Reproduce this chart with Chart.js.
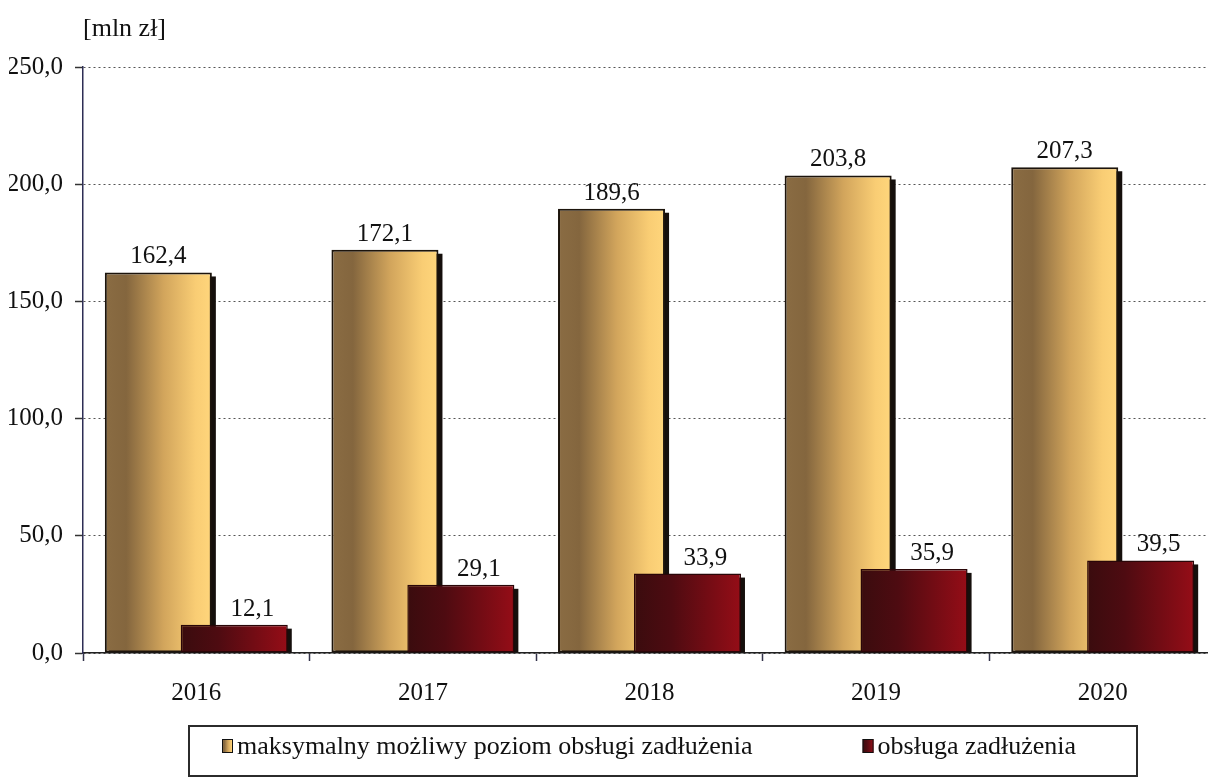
<!DOCTYPE html>
<html lang="pl">
<head>
<meta charset="utf-8">
<title>Obsługa zadłużenia</title>
<script src="https://cdn.jsdelivr.net/npm/chart.js@4.4.1/dist/chart.umd.min.js"></script>
<style>
  html, body { margin: 0; padding: 0; background: #fff; overflow: hidden; }
  #wrap { position: relative; width: 1216px; height: 778px; }
</style>
</head>
<body>
<div id="wrap"><canvas id="wykres"></canvas></div>
<script>
// Dane wykresu
const lata = ['2016', '2017', '2018', '2019', '2020'];
const maksymalnyPoziom = [162.4, 172.1, 189.6, 203.8, 207.3];
const obslugaZadluzenia = [12.1, 29.1, 33.9, 35.9, 39.5];
const etykietySerii = ['maksymalny możliwy poziom obsługi zadłużenia', 'obsługa zadłużenia'];
const zakresY = [0, 250];
const krokY = 50;

const czcionka = '"Liberation Serif", "Times New Roman", serif';

// 162.4 -> "162,4"
function liczbaPL(v) {
    return v.toFixed(1).replace('.', ',');
}

// poziomy gradient słupka
function gradient(ctx, x1, x2, stops) {
    const g = ctx.createLinearGradient(x1, 0, x2, 0);
    stops.forEach(s => g.addColorStop(s[0], s[1]));
    return g;
}
const zloto = [[0, '#8a6c43'], [0.2, '#84663e'], [0.55, '#d2a55c'], [0.85, '#f9cd74'], [1, '#ffd67c']];
const bordo = [[0, '#3a0c0e'], [0.35, '#4e0b11'], [1, '#950d17']];
const paleta = [zloto, bordo];

// cień pod słupkami
function cien(chart, meta) {
    const ctx = chart.ctx;
    ctx.save();
    ctx.fillStyle = '#150f0c';
    meta.data.forEach(el => {
        const l = el.x - el.width / 2;
        ctx.fillRect(l + 4, el.y + 4, el.width, el.base - el.y - 4);
    });
    ctx.restore();
}

// gradienty, cienie, kolejność rysowania i etykiety wartości
const slupkiPlugin = {
    id: 'slupki',
    beforeDatasetsDraw(chart) {
        chart.data.datasets.forEach((ds, i) => {
            chart.getDatasetMeta(i).data.forEach(el => {
                const l = el.x - el.width / 2;
                el.options = Object.assign({}, el.options, {
                    backgroundColor: gradient(chart.ctx, l, l + el.width, paleta[i])
                });
            });
        });
    },
    beforeDatasetDraw(chart, args) {
        // bordowe słupki rysujemy później, na wierzchu
        if (args.index === 1) return false;
        cien(chart, args.meta);
    },
    afterDatasetsDraw(chart) {
        const meta = chart.getDatasetMeta(1);
        cien(chart, meta);
        meta.controller.draw();

        const ctx = chart.ctx;
        ctx.save();
        ctx.font = '25px ' + czcionka;
        ctx.fillStyle = '#111';
        ctx.textAlign = 'center';
        ctx.textBaseline = 'alphabetic';
        chart.data.datasets.forEach((ds, i) => {
            chart.getDatasetMeta(i).data.forEach((el, j) => {
                ctx.fillText(liczbaPL(ds.data[j]), el.x + (i === 1 ? 18 : 0), el.y - 9);
            });
        });
        ctx.restore();
    }
};

// legenda w ramce pod wykresem
const legendaPlugin = {
    id: 'legendaRamka',
    afterDraw(chart) {
        const ctx = chart.ctx;
        ctx.save();
        ctx.strokeStyle = '#2b2b2b';
        ctx.lineWidth = 2;
        ctx.strokeRect(189, 726, 948, 50);

        ctx.font = '26px ' + czcionka;
        ctx.textBaseline = 'middle';
        ctx.textAlign = 'left';
        let x = 222;
        const y = 746;
        chart.data.datasets.forEach((ds, i) => {
            ctx.fillStyle = gradient(ctx, x, x + 11, paleta[i]);
            ctx.fillRect(x, y - 7, 11, 14);
            ctx.strokeStyle = '#111';
            ctx.lineWidth = 1;
            ctx.strokeRect(x + 0.5, y - 6.5, 10, 13);
            ctx.fillStyle = '#111';
            ctx.fillText(ds.label, x + 15, y + 1);
            x += 15 + ctx.measureText(ds.label).width + 110;
        });
        ctx.restore();
    }
};

const fontOsi = { family: czcionka, size: 25, weight: 'normal' };

new Chart(document.getElementById('wykres'), {
    type: 'bar',
    data: {
        labels: lata,
        datasets: [
            {
                label: etykietySerii[0],
                data: maksymalnyPoziom,
                backgroundColor: '#e0b468',
                borderColor: '#1c140c',
                borderWidth: 2
            },
            {
                label: etykietySerii[1],
                data: obslugaZadluzenia,
                backgroundColor: '#6a0a10',
                borderColor: '#2a0608',
                borderWidth: 1.5
            }
        ]
    },
    options: {
        responsive: true,
        maintainAspectRatio: false,
        animation: false,
        events: [],
        datasets: {
            bar: { categoryPercentage: 0.67, barPercentage: 1.41, borderSkipped: false }
        },
        layout: { padding: { left: 9, right: 0, top: 0, bottom: 53 } },
        plugins: {
            legend: { display: false },
            tooltip: { enabled: false },
            title: {
                display: true,
                text: '[mln zł]',
                align: 'start',
                fullSize: false,
                color: '#111',
                font: { family: czcionka, size: 26, weight: 'normal' },
                padding: { top: 14, bottom: 22 }
            }
        },
        scales: {
            x: {
                grid: {
                    offset: true,
                    drawOnChartArea: false,
                    drawTicks: true,
                    tickLength: 8,
                    tickColor: '#33334a',
                    tickWidth: 1.5
                },
                border: { color: '#222', width: 1.5 },
                ticks: { color: '#111', padding: 17, font: fontOsi }
            },
            y: {
                min: zakresY[0],
                max: zakresY[1],
                afterFit(scale) {
                    scale.width = 74;
                },
                ticks: {
                    stepSize: krokY,
                    padding: 12,
                    color: '#111',
                    font: fontOsi,
                    callback: v => liczbaPL(v)
                },
                grid: {
                    color: '#555',
                    lineWidth: 1,
                    tickLength: 8,
                    tickColor: '#333',
                    tickWidth: 1.5
                },
                border: { color: '#2d2d55', width: 1.5, dash: [2, 3] }
            }
        }
    },
    plugins: [slupkiPlugin, legendaPlugin]
});
</script>
</body>
</html>
